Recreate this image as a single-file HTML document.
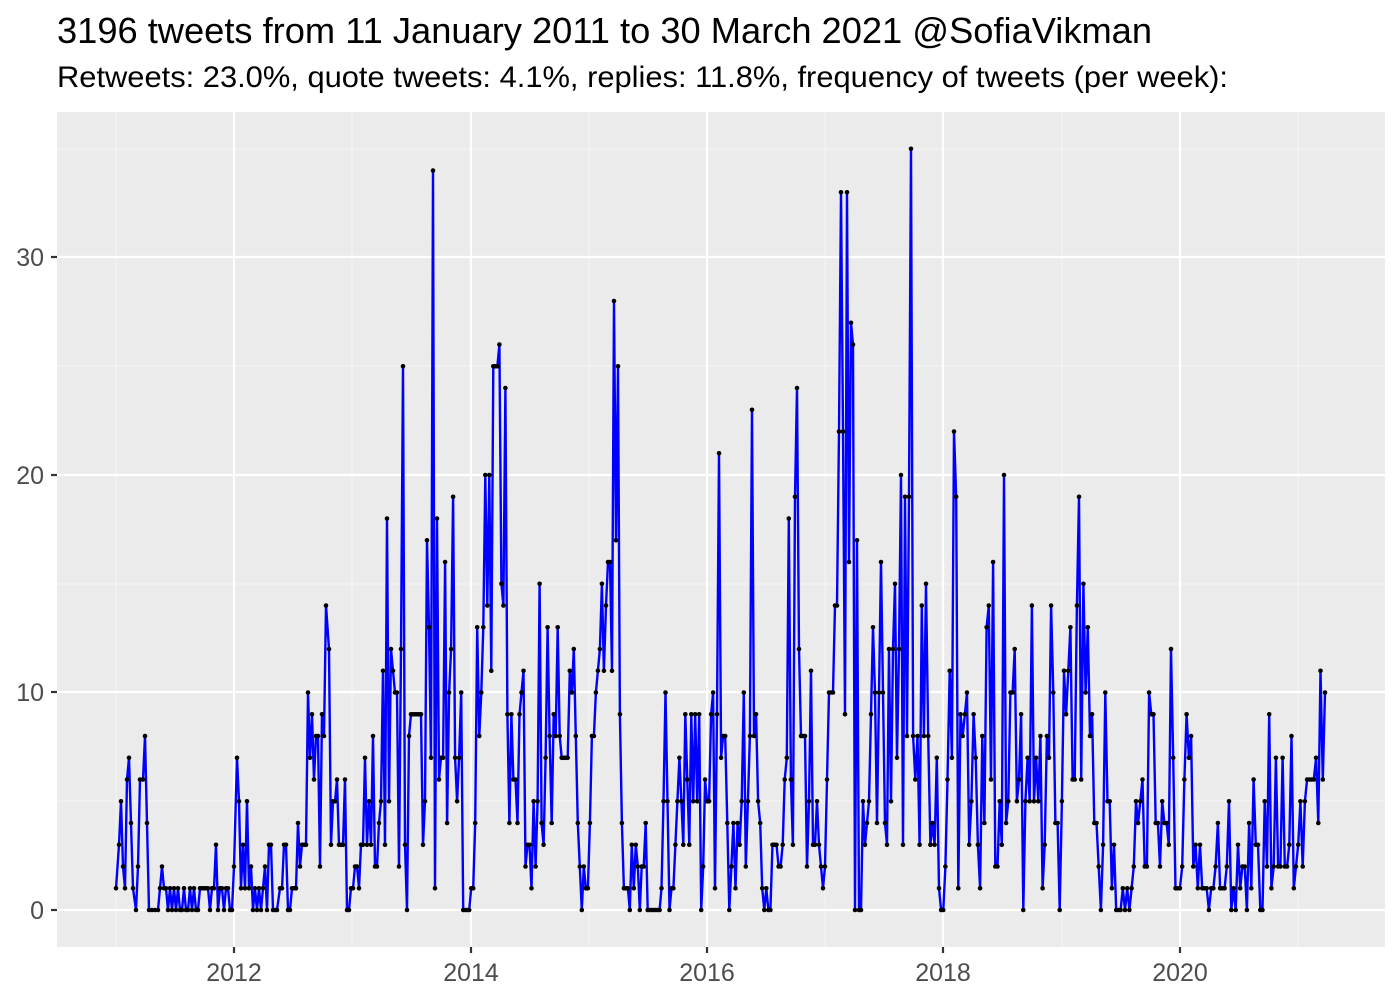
<!DOCTYPE html>
<html><head><meta charset="utf-8"><style>
html,body{margin:0;padding:0;background:#fff;}
body{width:1400px;height:1000px;overflow:hidden;font-family:"Liberation Sans",sans-serif;}
</style></head><body>
<svg id="s" width="1400" height="1000" xmlns="http://www.w3.org/2000/svg" font-family="Liberation Sans, sans-serif">
<text x="57" y="43" font-size="36" fill="#000" textLength="1095" lengthAdjust="spacingAndGlyphs">3196 tweets from 11 January 2011 to 30 March 2021 @SofiaVikman</text>
<text x="57" y="87" font-size="30" fill="#000" textLength="1171" lengthAdjust="spacingAndGlyphs">Retweets: 23.0%, quote tweets: 4.1%, replies: 11.8%, frequency of tweets (per week):</text>
<rect x="57" y="112" width="1328" height="835" fill="#ebebeb"/>
<g stroke="#f5f5f5" stroke-width="1.1">
<line x1="57" x2="1385" y1="801" y2="801"/><line x1="57" x2="1385" y1="584" y2="584"/><line x1="57" x2="1385" y1="366" y2="366"/><line x1="57" x2="1385" y1="149" y2="149"/>
<line y1="112" y2="947" x1="116" x2="116"/><line y1="112" y2="947" x1="352" x2="352"/><line y1="112" y2="947" x1="589" x2="589"/><line y1="112" y2="947" x1="825" x2="825"/><line y1="112" y2="947" x1="1062" x2="1062"/><line y1="112" y2="947" x1="1298" x2="1298"/>
</g>
<g stroke="#fff" stroke-width="2.2">
<line x1="57" x2="1385" y1="910" y2="910"/><line x1="57" x2="1385" y1="692" y2="692"/><line x1="57" x2="1385" y1="475" y2="475"/><line x1="57" x2="1385" y1="257" y2="257"/>
<line y1="112" y2="947" x1="234" x2="234"/><line y1="112" y2="947" x1="471" x2="471"/><line y1="112" y2="947" x1="707" x2="707"/><line y1="112" y2="947" x1="943" x2="943"/><line y1="112" y2="947" x1="1180" x2="1180"/>
</g>
<g stroke="#333" stroke-width="2.2">
<line x1="51" x2="57" y1="910" y2="910"/><line x1="51" x2="57" y1="692" y2="692"/><line x1="51" x2="57" y1="475" y2="475"/><line x1="51" x2="57" y1="257" y2="257"/>
<line y1="947" y2="953" x1="234" x2="234"/><line y1="947" y2="953" x1="471" x2="471"/><line y1="947" y2="953" x1="707" x2="707"/><line y1="947" y2="953" x1="943" x2="943"/><line y1="947" y2="953" x1="1180" x2="1180"/>
</g>
<g font-size="25" fill="#4d4d4d" text-anchor="end">
<text x="44" y="919">0</text><text x="44" y="701">10</text><text x="44" y="484">20</text><text x="44" y="266">30</text>
</g>
<g font-size="25" fill="#4d4d4d" text-anchor="middle">
<text x="234" y="981">2012</text><text x="471" y="981">2014</text><text x="707" y="981">2016</text><text x="943" y="981">2018</text><text x="1180" y="981">2020</text>
</g>
<polyline id="ln" fill="none" stroke="#0000ff" stroke-width="2.4" stroke-linejoin="round"/>
<g id="dots" fill="#000"></g>
</svg>
<script>
var raw="116:1,119:3,121:5,123:2,125:1,127:6,129:7,131:4,133:1,136:0,138:2,140:6,143:6,145:8,147:4,149:0,152:0,155:0,158:0,160:1,162:2,164:1,166:1,168:0,170:1,172:0,174:1,176:0,178:1,180:0,182:0,184:1,186:0,188:0,190:1,192:0,194:1,196:0,198:0,200:1,202:1,204:1,206:1,208:1,210:0,212:1,214:1,216:3,218:0,220:1,222:1,224:0,226:1,228:1,230:0,232:0,234:2,237:7,239:5,241:1,243:3,245:1,247:5,249:1,251:2,253:0,255:1,257:0,259:1,261:0,263:1,265:2,267:0,269:3,271:3,273:0,275:0,277:0,280:1,282:1,284:3,286:3,288:0,290:0,292:1,294:1,296:1,298:4,300:2,302:3,304:3,306:3,308:10,310:7,312:9,314:6,316:8,318:8,320:2,322:9,324:8,326:14,329:12,331:3,333:5,335:5,337:6,339:3,341:3,343:3,345:6,347:0,349:0,351:1,353:1,355:2,357:2,359:1,361:3,363:3,365:7,367:3,369:5,371:3,373:8,375:2,377:2,379:4,381:5,383:11,385:3,387:18,389:5,391:12,393:11,395:10,397:10,399:2,401:12,403:25,405:3,407:0,409:8,411:9,413:9,415:9,417:9,419:9,421:9,423:3,425:5,427:17,429:13,431:7,433:34,435:1,437:18,439:6,441:7,443:7,445:16,447:4,449:10,451:12,453:19,455:7,457:5,459:7,461:10,463:0,465:0,467:0,469:0,471:1,473:1,475:4,477:13,479:8,481:10,483:13,485:20,487:14,489:20,491:11,493:25,495:25,497:25,499:26,501:15,503:14,505:24,507:9,509:4,511:9,513:6,515:6,517:4,519:9,521:10,523:11,525:2,527:3,529:3,531:1,533:5,535:2,537:5,539:15,541:4,543:3,545:7,547:13,549:8,551:4,553:9,555:8,557:13,559:8,561:7,563:7,565:7,567:7,569:11,571:10,573:12,575:8,577:4,579:2,581:0,583:2,585:1,587:1,589:4,591:8,593:8,595:10,597:11,599:12,601:15,603:11,605:14,607:16,609:16,611:11,613:28,615:17,617:25,619:9,621:4,623:1,625:1,627:1,629:0,631:3,633:1,635:3,637:2,639:0,641:2,643:2,645:4,647:0,649:0,651:0,653:0,655:0,657:0,659:0,661:1,663:5,665:10,667:5,669:0,671:1,673:1,675:3,677:5,679:7,681:5,683:3,685:9,687:6,689:3,691:9,693:5,695:9,697:5,699:9,701:0,703:2,705:6,707:5,709:5,711:9,713:10,715:1,717:9,719:21,721:7,723:8,725:8,727:4,729:0,731:2,733:4,735:1,737:4,739:3,741:5,743:10,745:2,747:5,749:8,751:23,753:8,755:9,757:5,759:4,761:1,763:0,765:1,767:0,769:0,771:3,773:3,775:3,777:2,779:2,781:3,783:6,785:7,787:18,789:6,791:3,793:19,795:24,797:12,799:8,801:8,803:8,805:2,807:5,809:11,811:3,813:3,815:5,817:3,819:2,821:1,823:2,825:6,827:10,829:10,831:10,833:14,835:14,837:22,839:33,841:22,843:9,845:33,847:16,849:27,851:26,853:0,855:17,857:0,859:0,861:5,863:3,865:4,867:5,869:9,871:13,873:10,875:4,877:10,879:16,881:10,883:4,885:3,887:12,889:5,891:12,893:15,895:7,897:12,899:20,901:3,903:19,905:8,907:19,909:35,911:8,913:6,915:8,917:3,919:14,921:8,923:15,925:8,927:3,929:4,931:3,933:7,935:1,937:0,939:0,941:2,943:6,945:11,947:7,949:22,951:19,953:1,955:9,957:8,959:9,961:10,963:3,965:5,967:9,969:7,971:3,973:1,975:8,977:4,979:13,981:14,983:6,985:16,987:2,989:2,991:5,993:3,995:20,997:4,999:5,1001:10,1003:10,1005:12,1007:5,1009:6,1011:9,1013:0,1015:5,1017:7,1019:5,1021:14,1023:5,1025:7,1027:5,1029:8,1031:1,1033:3,1035:8,1037:7,1039:14,1041:10,1043:4,1045:4,1047:0,1049:5,1051:11,1053:9,1055:11,1057:13,1059:6,1061:6,1063:14,1065:19,1067:6,1069:15,1071:10,1073:13,1075:8,1077:9,1079:4,1081:4,1083:2,1085:0,1087:3,1089:10,1091:5,1093:5,1095:1,1097:3,1099:0,1101:0,1103:0,1105:1,1107:0,1109:1,1111:0,1113:1,1115:2,1117:5,1119:4,1121:5,1123:6,1125:2,1127:2,1129:10,1131:9,1133:9,1135:4,1137:4,1139:2,1141:5,1143:4,1145:4,1147:3,1149:12,1151:7,1153:1,1155:1,1157:1,1159:2,1161:6,1163:9,1165:7,1167:8,1169:2,1171:3,1173:1,1175:3,1177:1,1179:1,1181:1,1183:0,1185:1,1187:1,1189:2,1191:4,1193:1,1195:1,1197:1,1199:2,1201:5,1203:0,1205:1,1207:0,1209:3,1211:1,1213:2,1215:2,1217:0,1219:4,1221:1,1223:6,1225:3,1227:3,1229:0,1231:0,1233:5,1235:2,1237:9,1239:1,1241:2,1243:7,1245:2,1247:2,1249:7,1251:2,1253:2,1255:3,1257:8,1259:1,1261:2,1263:3,1265:5,1267:2,1269:5,1271:6,1273:6,1275:6,1277:6,1279:7,1281:4,1283:11,1285:6,1287:10";
var A=[[116,116],[237,237],[433,433],[613,614],[719,719],[751,752],[795,797],[839,841],[909,911],[949,954],[995,1004],[1065,1079],[1149,1171],[1287,1325]];
function mp(x){for(var i=0;i<A.length-1;i++){if(x<=A[i+1][0]){var a=A[i],b=A[i+1];return a[1]+(x-a[0])*(b[1]-a[1])/(b[0]-a[0]);}}return x;}
var pts=[],g=document.getElementById('dots'),ns="http://www.w3.org/2000/svg";
raw.split(',').forEach(function(p){var q=p.split(':');var x=mp(+q[0]),y=910-(+q[1])*21.75;pts.push(x.toFixed(1)+','+y.toFixed(1));});
document.getElementById('ln').setAttribute('points',pts.join(' '));
pts.forEach(function(p){var q=p.split(',');var c=document.createElementNS(ns,'circle');c.setAttribute('cx',q[0]);c.setAttribute('cy',q[1]);c.setAttribute('r','2.3');g.appendChild(c);});
</script>
</body></html>
